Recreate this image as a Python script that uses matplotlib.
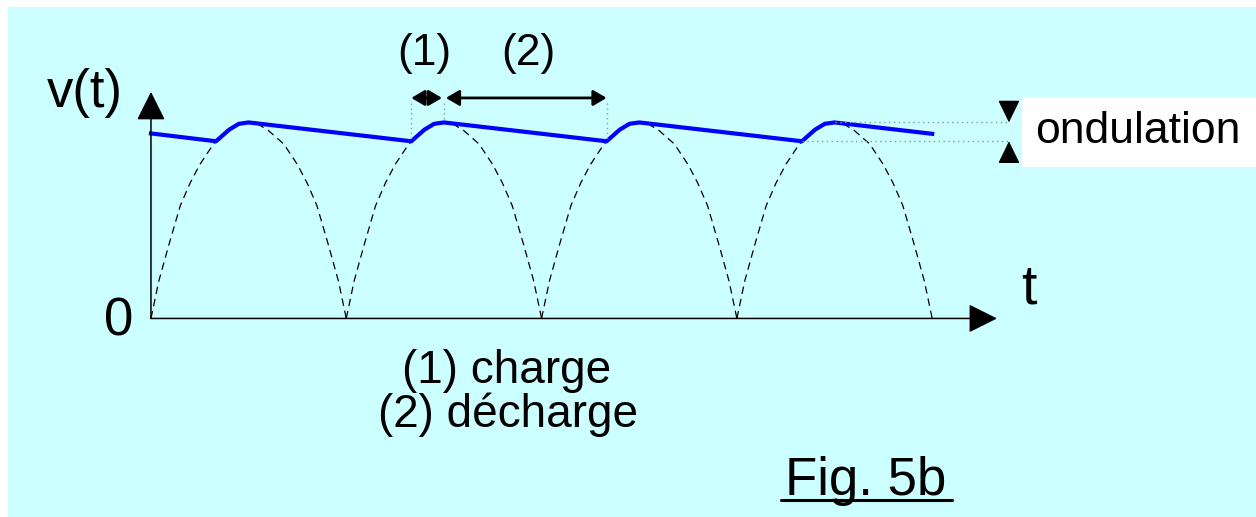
"""Fig. 5b - redressement double alternance avec condensateur de filtrage"""
import matplotlib
matplotlib.use("Agg")
import numpy as np
import matplotlib.pyplot as plt
import matplotlib.transforms as mtransforms
from matplotlib.patches import Rectangle

plt.rcParams['font.family'] = ['Liberation Sans', 'DejaVu Sans']

# one rectified arch (t in half-periods, v relative to peak)
arch_t = [0.0, 0.04, 0.09, 0.15, 0.2, 0.25, 0.32, 0.4, 0.45, 0.5,
          0.55, 0.6, 0.68, 0.75, 0.8, 0.85, 0.91, 0.96, 1.0]
arch_v = [0.0, 0.19, 0.37, 0.575, 0.69, 0.785, 0.89, 0.96, 0.99, 1.0,
          0.99, 0.96, 0.89, 0.785, 0.69, 0.575, 0.37, 0.19, 0.0]
arch_starts = [0, 1, 2, 3]

# filtered output voltage (blue)
ripple_t = [0.0, 0.333, 0.40, 0.45, 0.5,
            1.333, 1.40, 1.45, 1.5,
            2.333, 2.40, 2.45, 2.5,
            3.333, 3.40, 3.45, 3.5, 4.0]
ripple_v = [0.944, 0.904, 0.963, 0.993, 1.0,
            0.904, 0.963, 0.993, 1.0,
            0.904, 0.963, 0.993, 1.0,
            0.904, 0.963, 0.993, 1.0, 0.942]

v_max = 1.0
v_min = 0.904
charge_start = 1.333
charge_end = 1.5
discharge_end = 2.333
t_ripple_mark = 4.393

W, H = 1256, 517
fig = plt.figure(figsize=(W / 100, H / 100), dpi=100, facecolor='white')
ax = fig.add_axes([8 / W, 0, (W - 8) / W, (H - 7) / H])
ax.set_facecolor('#CCFFFF')
ax.set_xlim(-0.732, 5.658)
ax.set_ylim(-1.013, 1.589)
ax.set_xticks([])
ax.set_yticks([])
for s in ax.spines.values():
    s.set_visible(False)

# pixel coordinates (origin top-left) for the loose annotations
px = mtransforms.Affine2D().scale(1, -1).translate(0, H)


def arrow(ax, start, tip, style, lw=1.1):
    ax.annotate('', xy=tip, xytext=start,
                arrowprops=dict(arrowstyle=style, mutation_scale=1,
                                shrinkA=0, shrinkB=0, color='black', lw=lw))


# dashed rectified sine
for k in arch_starts:
    ax.plot(np.array(arch_t) + k, arch_v, color='black', lw=0.9,
            linestyle=(0, (6, 4)))

# filtered voltage
ax.plot(ripple_t, ripple_v, color='#0000FF', lw=3, solid_joinstyle='round')

# axes with arrows
arrow(ax, (0, 0), (0, 1.156), '-|>,head_length=18,head_width=9')
arrow(ax, (0, 0), (4.332, 0), '-|>,head_length=18,head_width=9')

# dotted guides
dot = dict(color='#8a9a9a', lw=1, linestyle=(0, (1, 2.5)))
ax.plot([charge_start, charge_start], [1.1, v_min], **dot)
ax.plot([charge_end, charge_end], [1.1, v_max], **dot)
ax.plot([discharge_end, discharge_end], [1.1, v_min], **dot)
ax.plot([3.5, t_ripple_mark], [v_max, v_max], **dot)
ax.plot([3.333, t_ripple_mark], [v_min, v_min], **dot)

# charge / discharge spans
y_dim = 1.125
arrow(ax, (charge_start, y_dim), (1.49, y_dim),
      '<|-|>,head_length=8,head_width=4.7', lw=2)
arrow(ax, (1.51, y_dim), (discharge_end, y_dim),
      '<|-|>,head_length=8,head_width=4.7', lw=2)

# ripple markers
arrow(ax, (t_ripple_mark, 1.10), (t_ripple_mark, v_max),
      '-|>,head_length=14,head_width=6.8', lw=1)
arrow(ax, (t_ripple_mark, 0.80), (t_ripple_mark, v_min),
      '-|>,head_length=14,head_width=6.8', lw=1)

# texts
ax.add_patch(Rectangle((1022, 97), 250, 70, transform=px,
                       facecolor='white', edgecolor='none'))
ax.text(1035, 143, 'ondulation', transform=px, fontsize=32, va='baseline')
ax.text(85, 107, 'v(t)', transform=px, fontsize=38, ha='center', va='baseline')
ax.text(119, 336, '0', transform=px, fontsize=38, ha='center', va='baseline')
ax.text(1029, 303, 't', transform=px, fontsize=40, ha='center', va='baseline')
ax.text(424, 65, '(1)', transform=px, fontsize=32, ha='center', va='baseline')
ax.text(528, 65, '(2)', transform=px, fontsize=32, ha='center', va='baseline')
ax.text(507, 383, '(1) charge', transform=px, fontsize=33, ha='center',
        va='baseline')
ax.text(508, 427, '(2) décharge', transform=px, fontsize=33, ha='center',
        va='baseline')
ax.text(785, 495, 'Fig. 5b', transform=px, fontsize=38, va='baseline')
ax.plot([781, 952], [500, 500], transform=px, color='black', lw=2.2,
        solid_capstyle='round')

fig.savefig('out.png', dpi=100, facecolor='white')
